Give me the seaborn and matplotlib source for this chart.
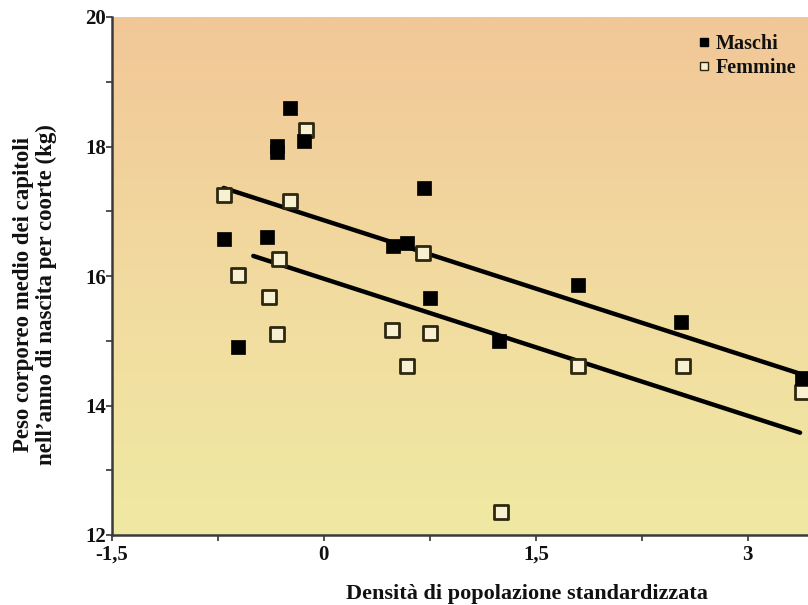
import numpy as np
import pandas as pd
import matplotlib
matplotlib.use("Agg")
import matplotlib.pyplot as plt
from matplotlib.colors import LinearSegmentedColormap
from matplotlib.lines import Line2D
import seaborn as sns

# Cohort means: standardized population density vs. mean body weight (kg)
maschi_x = [-0.71, -0.61, -0.40, -0.24, -0.33, -0.33, -0.14, 0.71, 0.49, 0.59, 0.75, 1.24, 1.80, 2.53, 3.38]
maschi_y = [16.57, 14.90, 16.60, 18.59, 18.01, 17.92, 18.08, 17.36, 16.46, 16.51, 15.66, 15.00, 15.86, 15.29, 14.42]

femmine_x = [-0.71, -0.61, -0.24, -0.13, -0.32, -0.39, -0.33, 0.48, 0.59, 0.75, 0.70, 1.25, 1.80, 2.54, 3.38]
femmine_y = [17.25, 16.02, 17.16, 18.25, 16.26, 15.68, 15.10, 15.17, 14.61, 15.12, 16.36, 12.36, 14.61, 14.61, 14.21]

# Regression lines (end points)
fit_maschi_x = [-0.71, 3.37]
fit_maschi_y = [17.36, 14.49]
fit_femmine_x = [-0.50, 3.37]
fit_femmine_y = [16.31, 13.58]

x_ticks = [-1.5, 0, 1.5, 3]
x_tick_labels = ["-1,5", "0", "1,5", "3"]
y_ticks = [12, 14, 16, 18, 20]

sns.set_theme(style="white")
plt.rcParams["font.family"] = ["Liberation Serif", "DejaVu Serif"]
plt.rcParams["font.weight"] = "bold"
plt.rcParams["text.color"] = "#111111"
plt.rcParams["xtick.labelcolor"] = "#111111"
plt.rcParams["ytick.labelcolor"] = "#111111"

fig = plt.figure(figsize=(8.08, 6.05), dpi=100)
ax = fig.add_axes([112 / 808, 70 / 605, 696 / 808, 518 / 605])

xmin, xmax = -1.5, 3.426
ymin, ymax = 12, 20

# vertical warm gradient background
cmap = LinearSegmentedColormap.from_list(
    "warm", [(0.0, "#efe9a3"), (0.45, "#f2dca0"), (1.0, "#f1c797")]
)
grad = np.linspace(0, 1, 256).reshape(-1, 1)
ax.imshow(grad, aspect="auto", cmap=cmap, origin="lower",
          extent=[xmin, xmax, ymin, ymax], zorder=0)

df_m = pd.DataFrame({"x": maschi_x, "y": maschi_y})
df_f = pd.DataFrame({"x": femmine_x, "y": femmine_y})

sns.lineplot(x=fit_maschi_x, y=fit_maschi_y, ax=ax, color="black", lw=3.2, zorder=2)
sns.lineplot(x=fit_femmine_x, y=fit_femmine_y, ax=ax, color="black", lw=3.2, zorder=2)

sns.scatterplot(data=df_f, x="x", y="y", ax=ax, marker="s", s=95,
                facecolor="#f7f1d2", edgecolor="#2e2810", linewidth=2.0, zorder=3)
sns.scatterplot(data=df_m, x="x", y="y", ax=ax, marker="s", s=95,
                color="black", edgecolor="black", linewidth=0.5, zorder=4)

ax.set_xlim(xmin, xmax)
ax.set_ylim(ymin, ymax)
ax.set_xticks(x_ticks)
ax.set_xticklabels(x_tick_labels)
ax.set_yticks(y_ticks)
ax.set_xticks([-0.75, 0.75, 2.25], minor=True)
ax.set_yticks([13, 15, 17, 19], minor=True)
ax.tick_params(axis="both", which="both", direction="out", length=4, width=1.2,
               color="#333333", labelsize=15, labelcolor="#111111")
ax.tick_params(axis="x", which="both", bottom=True, pad=3)
ax.tick_params(axis="y", which="both", left=True, pad=0.5)
for lab in ax.get_xticklabels() + ax.get_yticklabels():
    lab.set_fontweight("bold")

for side in ["top", "right"]:
    ax.spines[side].set_visible(False)
for side in ["left", "bottom"]:
    ax.spines[side].set_color("#3a3a3a")
    ax.spines[side].set_linewidth(1.8)

ax.set_xlabel("")
ax.set_ylabel("")

fig.text(527 / 808, 1 - 594 / 605, "Densità di popolazione standardizzata",
         ha="center", va="center", fontsize=16, fontweight="bold")
fig.text(35 / 808, 1 - 295 / 605,
         "Peso corporeo medio dei capitoli\nnell\u2019anno di nascita per coorte (kg)",
         ha="center", va="center", rotation=90, fontsize=16.5, fontweight="bold",
         linespacing=1.1)

handles = [
    Line2D([], [], marker="s", linestyle="none", markersize=6,
           markerfacecolor="black", markeredgecolor="black", label="Maschi"),
    Line2D([], [], marker="s", linestyle="none", markersize=6,
           markerfacecolor="#f7f1d2", markeredgecolor="#2e2810", markeredgewidth=1.0,
           label="Femmine"),
]
leg = ax.legend(handles=handles, loc="upper right", bbox_to_anchor=(1.004, 0.995),
                frameon=False, fontsize=14.5, handlelength=0.6, handletextpad=0.3,
                labelspacing=0.2, borderaxespad=0.3)
for t in leg.get_texts():
    t.set_fontweight("bold")

fig.savefig("out.png", dpi=100)
